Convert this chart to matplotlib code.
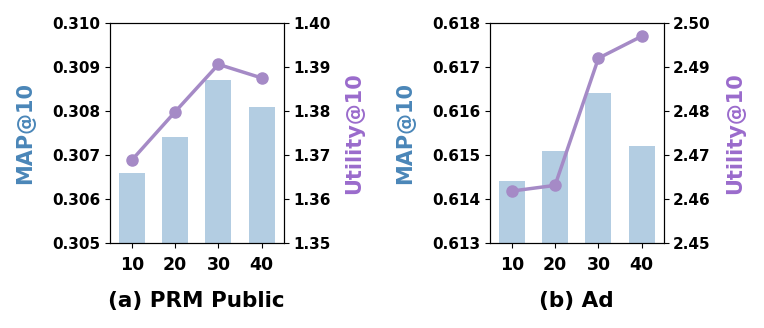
import matplotlib
matplotlib.use("Agg")
from matplotlib import pyplot as plt

# data
x_vals = [10, 20, 30, 40]
prm_map = [0.3066, 0.3074, 0.3087, 0.3081]
prm_util = [1.3688, 1.3798, 1.3906, 1.3875]
ad_map = [0.6144, 0.6151, 0.6164, 0.6152]
ad_util = [2.4618, 2.4631, 2.4920, 2.4970]
titles = ["(a) PRM Public", "(b) Ad"]

BAR_COLOR = "#b3cde2"
LINE_COLOR = "#a58ac6"
MAP_COLOR = "#4a86b8"
UTIL_COLOR = "#9a6bcc"

plt.rcParams["font.family"] = "DejaVu Sans"
plt.rcParams["font.weight"] = "bold"

fig = plt.figure(figsize=(7.64, 3.28), dpi=100)
W, H = 764, 328
panels = [
    (110, prm_map, prm_util, (0.305, 0.310), (1.35, 1.40), [0.305, 0.306, 0.307, 0.308, 0.309, 0.310], [1.35, 1.36, 1.37, 1.38, 1.39, 1.40], "{:.3f}", "{:.2f}"),
    (490, ad_map, ad_util, (0.613, 0.618), (2.45, 2.50), [0.613, 0.614, 0.615, 0.616, 0.617, 0.618], [2.45, 2.46, 2.47, 2.48, 2.49, 2.50], "{:.3f}", "{:.2f}"),
]

for i, (left, bars, util, ylim1, ylim2, yt1, yt2, f1, f2) in enumerate(panels):
    ax = fig.add_axes([left / W, 1 - 243 / H, 173.5 / W, 220 / H])
    ax.bar(x_vals, bars, width=6, color=BAR_COLOR, zorder=1)
    ax.set_xlim(5, 45)
    ax.set_ylim(*ylim1)
    ax.set_yticks(yt1)
    ax.set_yticklabels([f1.format(v) for v in yt1], fontsize=11, fontweight="bold")
    ax.set_xticks(x_vals)
    ax.set_xticklabels([str(v) for v in x_vals], fontsize=12.5, fontweight="bold")
    ax.tick_params(axis="x", pad=6)
    ax.set_ylabel("MAP@10", color=MAP_COLOR, fontsize=15, fontweight="bold", labelpad=12)
    ax.set_xlabel(titles[i], fontsize=15.5, fontweight="bold", labelpad=12)

    ax2 = ax.twinx()
    ax2.plot(x_vals, util, color=LINE_COLOR, linewidth=2.5, marker="o", markersize=8)
    ax2.set_ylim(*ylim2)
    ax2.set_yticks(yt2)
    ax2.set_yticklabels([f2.format(v) for v in yt2], fontsize=11, fontweight="bold")
    ax2.set_ylabel("Utility@10", color=UTIL_COLOR, fontsize=15, fontweight="bold", labelpad=10)

fig.savefig("out.png", dpi=100)
